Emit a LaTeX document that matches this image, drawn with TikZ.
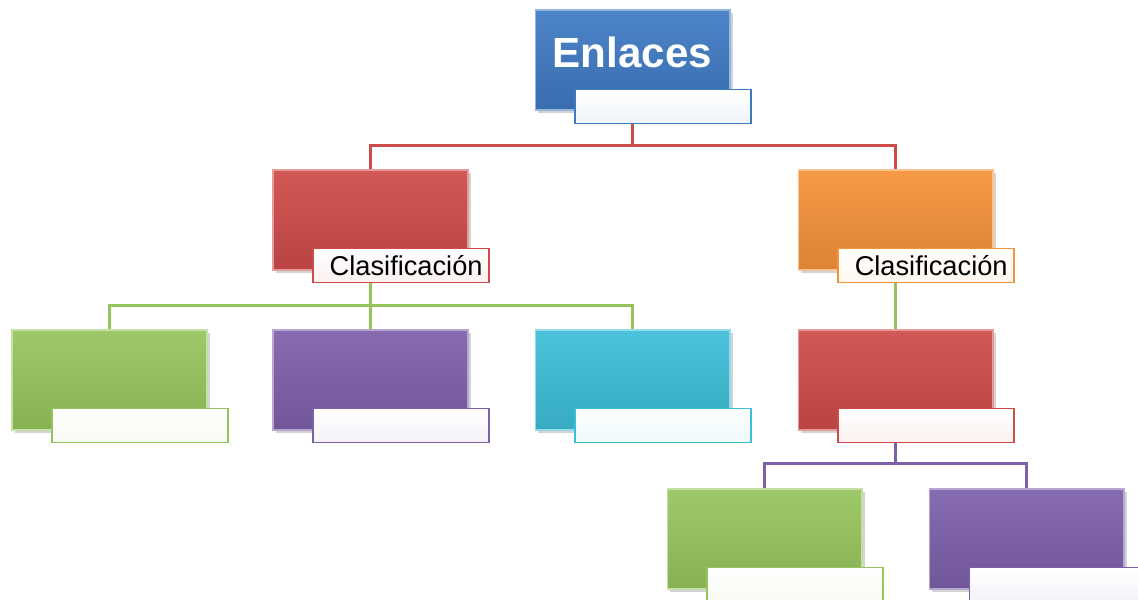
\documentclass[tikz,border=0pt]{standalone}
\usepackage{fontspec}
\setmainfont{Liberation Sans}
\usetikzlibrary{positioning, shadows, backgrounds}
\definecolor{boxBlue}{RGB}{62,122,195}
\definecolor{boxRed}{RGB}{205,75,72}
\definecolor{boxOrange}{RGB}{245,145,55}
\definecolor{boxGreen}{RGB}{150,196,92}
\definecolor{boxPurple}{RGB}{125,95,170}
\definecolor{boxCyan}{RGB}{60,190,215}

\begin{document}
\begin{tikzpicture}[x=0.02cm, y=-0.02cm,
  box/.style={minimum width=3.9cm, minimum height=2cm, inner sep=0pt,
    top color=#1!92!white, bottom color=#1!90!black, draw=#1!55!white, line width=0.6pt,
    drop shadow={opacity=0.35, shadow xshift=1.5pt, shadow yshift=-1.5pt}},
  tag/.style={minimum width=3.52cm, minimum height=0.68cm, inner sep=0pt, anchor=north west,
    draw=#1, line width=0.8pt, top color=white, bottom color=#1!8!white,
    font=\fontsize{15.5}{18}\selectfont},
  wire/.style={draw=#1, line width=1.7pt}]
  \clip (0,0) rectangle (1138,599);
  % root
  \node[box=boxBlue] (root) at (632.5,60) {};
  \node[font=\bfseries\fontsize{24}{28}\selectfont, text=white] (rootText) at ([yshift=0.16cm]root.center) {Enlaces};
  \node[tag=boxBlue] (rootTag) at ([xshift=0.8cm, yshift=0.44cm]root.south west) {};
  % first level
  \node[box=boxRed] (kindA) at (370.5,220) {};
  \node[tag=boxRed] (kindATag) at ([xshift=0.8cm, yshift=0.46cm]kindA.south west) {\hspace{0.2cm}Clasificación};
  \node[box=boxOrange] (kindB) at (895.5,220) {};
  \node[tag=boxOrange] (kindBTag) at ([xshift=0.8cm, yshift=0.46cm]kindB.south west) {\hspace{0.2cm}Clasificación};
  % second level
  \node[box=boxGreen] (subA) at (109.5,380) {};
  \node[tag=boxGreen] (subATag) at ([xshift=0.8cm, yshift=0.46cm]subA.south west) {};
  \node[box=boxPurple] (subB) at (370.5,380) {};
  \node[tag=boxPurple] (subBTag) at ([xshift=0.8cm, yshift=0.46cm]subB.south west) {};
  \node[box=boxCyan] (subC) at (632.5,380) {};
  \node[tag=boxCyan] (subCTag) at ([xshift=0.8cm, yshift=0.46cm]subC.south west) {};
  \node[box=boxRed] (subD) at (895.5,380) {};
  \node[tag=boxRed] (subDTag) at ([xshift=0.8cm, yshift=0.46cm]subD.south west) {};
  % third level
  \node[box=boxGreen] (leafA) at (764.5,539) {};
  \node[tag=boxGreen] (leafATag) at ([xshift=0.8cm, yshift=0.46cm]leafA.south west) {};
  \node[box=boxPurple] (leafB) at (1026.5,539) {};
  \node[tag=boxPurple] (leafBTag) at ([xshift=0.8cm, yshift=0.46cm]leafB.south west) {};
  % connectors
  \begin{scope}[on background layer]
    \draw[wire=boxRed] (root.south) -- ++(0,35) -| (kindA.north);
    \draw[wire=boxRed] (root.south) ++(0,35) -| (kindB.north);
    \draw[wire=boxGreen] (kindA.south) -- ++(0,35) -| (subA.north);
    \draw[wire=boxGreen] (kindA.south) -- (subB.north);
    \draw[wire=boxGreen] (kindA.south) ++(0,35) -| (subC.north);
    \draw[wire=boxGreen] (kindB.south) -- (subD.north);
    \draw[wire=boxPurple] (subD.south) -- ++(0,33) -| (leafA.north);
    \draw[wire=boxPurple] (subD.south) ++(0,33) -| (leafB.north);
  \end{scope}
\end{tikzpicture}
\end{document}
